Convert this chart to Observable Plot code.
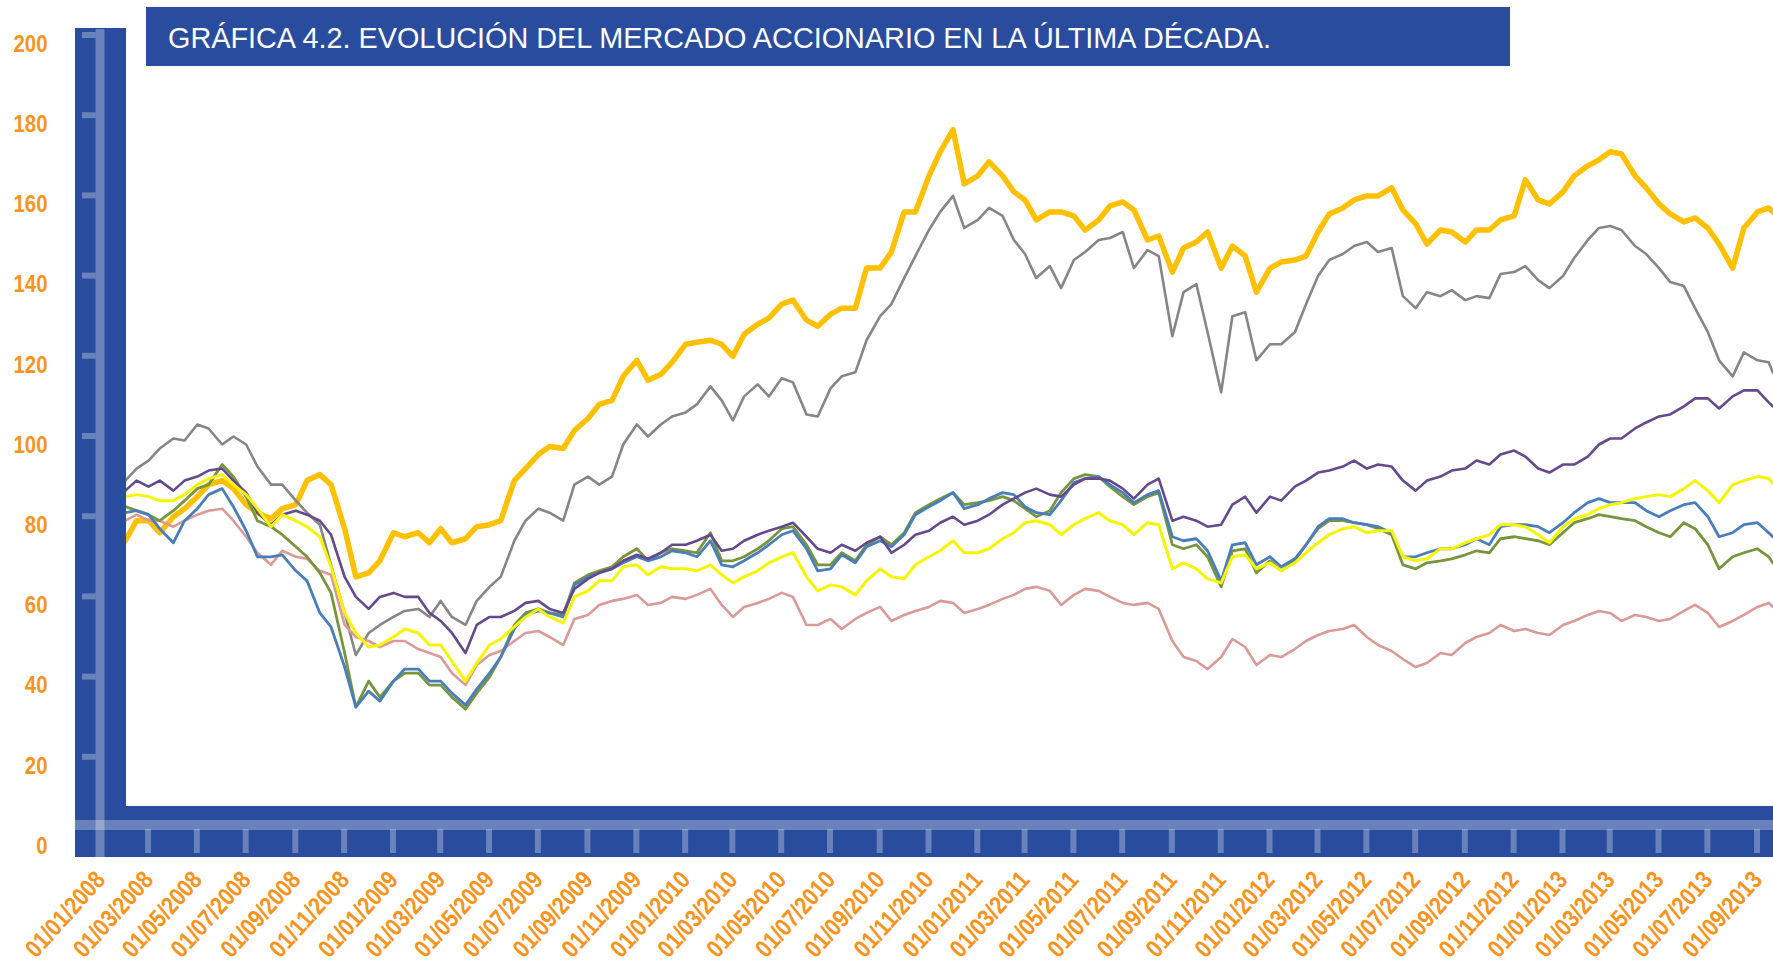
<!DOCTYPE html>
<html><head><meta charset="utf-8">
<script src="https://cdn.jsdelivr.net/npm/d3@7"></script>
<script src="https://cdn.jsdelivr.net/npm/@observablehq/plot@0.6"></script>
<style>
html,body{margin:0;padding:0;background:#fff;}
#wrap{position:relative;width:1773px;height:963px;overflow:hidden;background:#fff;}
#chart{position:absolute;left:0;top:0;}
#titulo{position:absolute;left:146px;top:7px;width:1364px;height:59px;background:#294C9E;}
#tt{position:absolute;left:22px;top:16.5px;font-family:"Liberation Sans",Arial,sans-serif;font-size:29px;line-height:29px;color:#fff;white-space:nowrap;transform-origin:0 50%;}
</style></head>
<body>
<div id="wrap"><div id="chart"></div><div id="titulo"><span id="tt">GRÁFICA 4.2. EVOLUCIÓN DEL MERCADO ACCIONARIO EN LA ÚLTIMA DÉCADA.</span></div></div>
<script>
const fechas = [
"2008-01-01","2008-01-15","2008-02-01","2008-02-15","2008-03-01","2008-03-15","2008-04-01","2008-04-15","2008-05-01","2008-05-15","2008-06-01","2008-06-15","2008-07-01","2008-07-15","2008-08-01","2008-08-15","2008-09-01","2008-09-15","2008-10-01","2008-10-15","2008-11-01","2008-11-15","2008-12-01","2008-12-15",
"2009-01-01","2009-01-15","2009-02-01","2009-02-15","2009-03-01","2009-03-15","2009-04-01","2009-04-15","2009-05-01","2009-05-15","2009-06-01","2009-06-15","2009-07-01","2009-07-15","2009-08-01","2009-08-15","2009-09-01","2009-09-15","2009-10-01","2009-10-15","2009-11-01","2009-11-15","2009-12-01","2009-12-15",
"2010-01-01","2010-01-15","2010-02-01","2010-02-15","2010-03-01","2010-03-15","2010-04-01","2010-04-15","2010-05-01","2010-05-15","2010-06-01","2010-06-15","2010-07-01","2010-07-15","2010-08-01","2010-08-15","2010-09-01","2010-09-15","2010-10-01","2010-10-15","2010-11-01","2010-11-15","2010-12-01","2010-12-15",
"2011-01-01","2011-01-15","2011-02-01","2011-02-15","2011-03-01","2011-03-15","2011-04-01","2011-04-15","2011-05-01","2011-05-15","2011-06-01","2011-06-15","2011-07-01","2011-07-15","2011-08-01","2011-08-15","2011-09-01","2011-09-15","2011-10-01","2011-10-15","2011-11-01","2011-11-15","2011-12-01","2011-12-15",
"2012-01-01","2012-01-15","2012-02-01","2012-02-15","2012-03-01","2012-03-15","2012-04-01","2012-04-15","2012-05-01","2012-05-15","2012-06-01","2012-06-15","2012-07-01","2012-07-15","2012-08-01","2012-08-15","2012-09-01","2012-09-15","2012-10-01","2012-10-15","2012-11-01","2012-11-15","2012-12-01","2012-12-15",
"2013-01-01","2013-01-15","2013-02-01","2013-02-15","2013-03-01","2013-03-15","2013-04-01","2013-04-15","2013-05-01","2013-05-15","2013-06-01","2013-06-15","2013-07-01","2013-07-15","2013-08-01","2013-08-15","2013-09-01","2013-09-15","2013-09-20"
];

const naranja = [
85,80,75,80,80,77,81,83,86,89,90,88,84,82,80.5,83,84,90,91.5,89,78,66,67,70,
77,76,77,74.5,78,74.5,75.5,78.5,79,80,90,93,96.5,98.5,98,102.5,105.5,109,110,116,120,115,116.5,119.5,
124,124.5,125,124,121,126.5,129,130.5,134,135,130,128.5,131.5,133,133,143,143,147,157,157,166,172,177.5,164,
166,169.5,166,162,160,155,157,157,156,152.5,155,158.5,159.5,157.5,150,151,142,148,149.5,152,143,148.5,146,137,
143,144.5,145,146,152,156.5,158,160,161,161,163,157.5,154,149,152.5,152,149.5,152.5,152.5,155,156,165,160,159,
162,166,168.5,170,172,171.5,166,163,159,156.5,154.5,155.5,153,149,143,153,157,158,157
];
const gris = [
86,88,90,93,95,98,100.5,100,104,103,99,101,99,93.5,89,89,85,82,79,69,57,46.5,52,54,
56,57.5,58,56,60,56,54,60,63.5,66,75,80,83,82,80,89,91,89,91,99,104,101,104,106,
107,109,113.5,110,105,111,114,111,115.5,114.5,106.5,106,113,116,117,125,131,134,140.5,146,152.5,157,161,153,
155,158,156,150,146.5,140.5,143.5,138,145,147,150,150.5,152,143,147.5,146,126,137,139,127,112,131,132,120,
124,124,127,134,141,145,146.5,148.5,149.5,147,148,136,133,137,136,137.5,135,136,135.5,141.5,142,143.5,140,138,
141,145.5,150,153,153.5,152.5,148.5,146.5,143,139.5,138.5,133,127,120,116,122,120,119.5,117
];
const morado = [
86,87,87.5,90,88.5,90,87.5,90,91,92.5,93,90,87,82,79,81.5,82.5,81.5,80,76.5,66,61,58,61,
62,61,61,57,55,52,47,54,56,56,57.5,59.5,60,58,57,63,65.5,67,68,70,71.5,70.5,72,74,
74,75,76.5,72.5,73,75,76.5,77.5,78.5,79.5,76,73,72,74,72.5,74.5,76,72,74,76.5,77.5,79.5,81,79,
80,81.5,84,85.5,87,88,86.5,86,89,90.5,90.5,90,88,85.5,89,90.5,80,81,80,78.5,79,84,86,82,
86,85,88.5,90,92,92.5,93.5,95,93,94,93.5,90,87.5,90,91,92.5,93,95,94,96.5,97.5,96,93,92,
94,94,96,99,100.5,100.5,103,104.5,106,106.5,108.5,110.5,110.5,108,111,112.5,112.5,109.5,108.5
];
const amarillo = [
86,86,86,86.5,86,85,85,86.5,89,90.5,91.5,89,86.5,83,78.5,81.5,80,78.5,76,68.5,57,52,48.5,49,
51,53,52,49,49,45,40,44.5,49,50.5,53.5,56,58,56,54.5,61,62.5,65,65,68.5,69,66.5,68.5,68,
68,67.5,69,66.5,64.5,66,67.5,69.5,71,72,66,62.5,64,63.5,61.5,65,68,66,65.5,69,71,72.5,75,72,
72,73,75.5,77,79.5,80,79,76.5,79,80.5,82,80,79,76.5,79.5,79,68,69.5,68,65.5,64.5,71,71.5,68,
69.5,67.5,69.5,72,74.5,76.5,78,78.5,77,77.5,77.5,71,70,70.5,73,73,74.5,75.5,76.5,79,79,78.5,76.5,74.5,
78.5,80.5,81.5,83,84,84.5,85.5,86,86.5,86,88,90,87.5,84.5,89,90,91,90.5,89.5
];
const verde = [
85,84,83.5,82.5,81.5,80,82.5,85,88,89,94,91,86,80,78.5,76.5,73.5,71,67,62,47,33.5,40,36,
40,42,42,39,39,36,33,37,41,46,54,57,58,57,56.5,64.5,66.5,67.5,68.5,71,73,70,72,73,
72.5,72,77,70,70,71,73,75,78,78.5,74,69,69,72,70,74,76,74,77,82,84,85.5,87,84,
84.5,85,86,85,83,81,82.5,87,90.5,91.5,91,88.5,86,84,86,87,74,73,74,71,63.5,72.5,73,67,
70,67.5,70,74,78,80,80,79.5,79,78,76.5,69,68,69.5,70,70.5,71.5,72.5,72,75.5,76,75.5,75,74,
77,79.5,80.5,81.5,81,80.5,80,78.5,77,76,79.5,78,74,68,71,72,73,71,69.5
];
const azul = [
85,83,82,82.5,81.5,78,74.5,80,83,86.5,88,83.5,77.5,71,71,71.5,67.5,65,57,53.5,43.5,33.5,37.5,35,
40,43,43,40,40,37,34,38,42,46,53,56.5,57.5,57,56,64,66,67,68,69.5,71,70,71,72.5,
72,71,75,69,68.5,70,72,74,76.5,77.5,73,67.5,68,71.5,69.5,73.5,75,73.5,76.5,81.5,83.5,85,87,83,
84,85.5,87,86.5,83.5,82,81.5,85,89.5,90.5,91,89,87,84.5,86.5,87.5,76,75,75.5,72.5,65,74,74.5,69,
71,68.5,70.5,74,78.5,80.5,80.5,79.5,79,78.5,77,71,71,72,73,73,74,75.5,74,78.5,79,79,78.5,77,
79.5,82,84.5,85.5,84.5,84.5,84.5,82.5,81,82.5,84,84.5,81,76,77,79,79.5,77,76
];
const rosa = [
83,81,80,81.5,80,80,78.5,80,81.5,82.5,83,80,76,72,69,72.5,71,70.5,67.5,66.5,54,51,50,48.5,
50,50,48,47,46,42,39,44,46.5,47.5,50,52,52.5,51,49,55.5,56.5,59,60,60.5,61.5,59,59.5,61,
60.5,61.5,63,59,56,58.5,59.5,60.5,62,61,54,54,55.5,53,55.5,57,58.5,55,56.5,57.5,58.5,60,59.5,57,
58,59,60.5,61.5,63,63.5,62.5,59,61.5,63,62.5,61,59.5,59,59.5,58,50,46,45,43,46,50.5,48.5,44,
46.5,46,48,50,51.5,52.5,53,54,51,49,47.5,45.5,43.5,44.5,47,46.5,49.5,51,52,54,52.5,53,52,51.5,
54,55,56.5,57.5,57,55,56.5,56,55,55.5,57.5,59,57,53.5,55,56.5,58.5,59.5,58.5
];

const yTicks = [0,20,40,60,80,100,120,140,160,180,200];
const xTicks = [
"2008-01-01","2008-03-01","2008-05-01","2008-07-01","2008-09-01","2008-11-01",
"2009-01-01","2009-03-01","2009-05-01","2009-07-01","2009-09-01","2009-11-01",
"2010-01-01","2010-03-01","2010-05-01","2010-07-01","2010-09-01","2010-11-01",
"2011-01-01","2011-03-01","2011-05-01","2011-07-01","2011-09-01","2011-11-01",
"2012-01-01","2012-03-01","2012-05-01","2012-07-01","2012-09-01","2012-11-01",
"2013-01-01","2013-03-01","2013-05-01","2013-07-01","2013-09-01"
].map(d => new Date(d));

const AZUL = "#294C9E", NARANJA_TXT = "#F7941D";
const series = [
  {nombre: "naranja", valores: naranja, color: "#FFC000", ancho: 5.5},
  {nombre: "gris", valores: gris, color: "#868686", ancho: 2.6},
  {nombre: "rosa", valores: rosa, color: "#D99A98", ancho: 2.6},
  {nombre: "verde", valores: verde, color: "#77953D", ancho: 2.8},
  {nombre: "azul", valores: azul, color: "#4A7EBB", ancho: 2.8},
  {nombre: "morado", valores: morado, color: "#64498C", ancho: 2.6},
  {nombre: "amarillo", valores: amarillo, color: "#F5F500", ancho: 3}
];
for (const s of series) if (s.valores.length !== fechas.length) throw new Error(s.nombre + " " + s.valores.length + " vs " + fechas.length);

const fechasD = fechas.map(d => new Date(d));
const lineas = series.map(s => Plot.line(
  fechasD.map((f, i) => ({fecha: f, valor: s.valores[i]})),
  {x: "fecha", y: "valor", stroke: s.color, strokeWidth: s.ancho, strokeLinejoin: "round", strokeLinecap: "round"}
));

const chart = Plot.plot({
  width: 1773, height: 963,
  marginLeft: 126, marginRight: 0, marginTop: 28, marginBottom: 106,
  style: {fontFamily: "'Liberation Sans Narrow','Liberation Sans',Arial,sans-serif", background: "transparent", overflow: "visible"},
  x: {type: "utc", domain: [new Date("2008-01-01"), new Date("2013-09-01")], range: [100, 1757]},
  y: {domain: [0, 200], range: [841, 39]},
  marks: [
    ...lineas,
    Plot.axisY(yTicks, {anchor: "left", tickSize: 0, tickPadding: 79, fontSize: 24, fontWeight: "bold", color: NARANJA_TXT, label: null}),
    Plot.axisX(xTicks, {anchor: "bottom", tickSize: 0, tickPadding: 18, tickRotate: -48, tickFormat: d3.utcFormat("%d/%m/%Y"), fontSize: 25, fontWeight: "bold", color: NARANJA_TXT, label: null})
  ]
});
document.getElementById("chart").appendChild(chart);

// axis label widths (condensed look)
d3.select(chart).selectAll('g[aria-label="y-axis tick label"] text').each(function() {
  const t = this.textContent;
  this.setAttribute("textLength", (11.35 * t.length).toFixed(1));
  this.setAttribute("lengthAdjust", "spacingAndGlyphs");
  this.setAttribute("dy", "0.19em");
});
d3.select(chart).selectAll('g[aria-label="x-axis tick label"] text').each(function() {
  this.setAttribute("textLength", "105");
  this.setAttribute("lengthAdjust", "spacingAndGlyphs");
});

// decorative blue frame with ticks from the scales
const sx = chart.scale("x"), sy = chart.scale("y");
const svg = d3.select(chart);
const g = svg.append("g").attr("class", "marco");
const x0 = sx.apply(xTicks[0]);
g.append("rect").attr("x", 75).attr("y", 28).attr("width", 51).attr("height", 829).attr("fill", AZUL);
g.append("rect").attr("x", 75).attr("y", 806).attr("width", 1773 - 75).attr("height", 51).attr("fill", AZUL);
g.append("rect").attr("x", x0 - 4.5).attr("y", 29).attr("width", 9).attr("height", 828).attr("fill", "#fff").attr("fill-opacity", 0.3);
g.append("rect").attr("x", 75).attr("y", 820).attr("width", 1773 - 75).attr("height", 10).attr("fill", "#fff").attr("fill-opacity", 0.3);
xTicks.slice(1).forEach(d => {
  g.append("rect").attr("x", sx.apply(d) - 3).attr("y", 829).attr("width", 6).attr("height", 24).attr("fill", "#fff").attr("fill-opacity", 0.3);
});
yTicks.slice(1).forEach(v => {
  g.append("rect").attr("x", 82).attr("y", sy.apply(v) - 7).attr("width", x0 - 4.5 - 82).attr("height", 6).attr("fill", "#fff").attr("fill-opacity", 0.3);
});

// title width fit
const tt = document.getElementById("tt");
const w = tt.getBoundingClientRect().width;
tt.style.transform = "scaleX(" + (1103 / w) + ")";
</script>
</body></html>
